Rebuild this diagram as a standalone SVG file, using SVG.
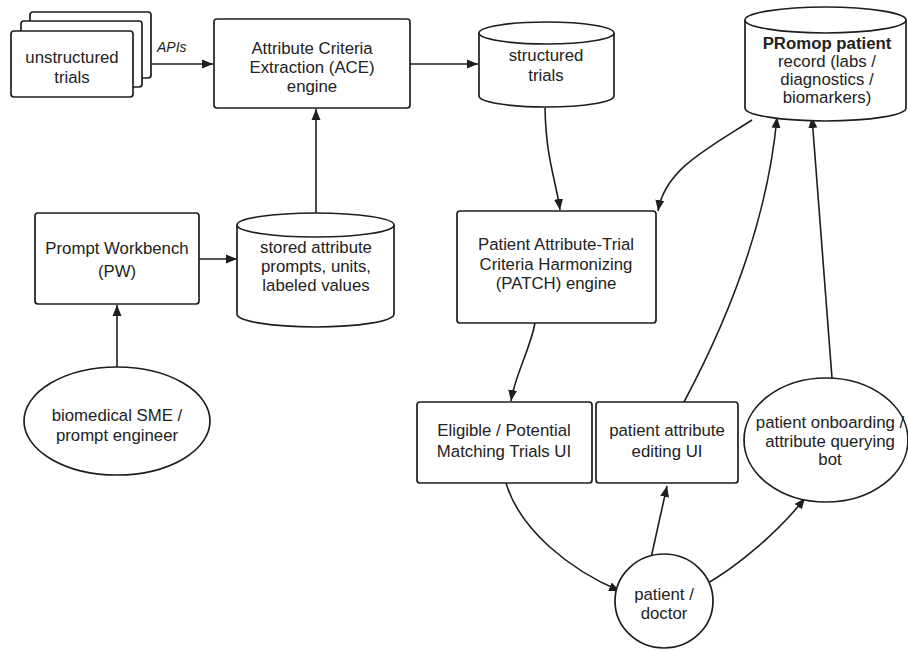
<svg xmlns="http://www.w3.org/2000/svg" width="908" height="650" viewBox="0 0 908 650">
<defs>
<marker id="arr" markerWidth="12" markerHeight="10" refX="11" refY="5" orient="auto" markerUnits="userSpaceOnUse">
<path d="M0,0.5 L11,5 L0,9.5 Z" fill="#1e1e1e"/>
</marker>
<style>
.s{fill:#fff;stroke:#1e1e1e;stroke-width:1.7}
.t{font-family:"Liberation Sans",Arial,sans-serif;font-size:16.8px;fill:#222;text-anchor:middle}
.b{font-weight:bold}
.i{font-style:italic;font-size:14px;text-anchor:start}
.c{fill:none;stroke:#1e1e1e;stroke-width:1.6;marker-end:url(#arr)}
</style>
</defs>
<rect width="908" height="650" fill="#fff"/>

<g id="connectors">
<path class="c" d="M133,64 H213"/>
<path class="c" d="M410,64 H478"/>
<path class="c" d="M316,213 V109"/>
<path class="c" d="M199,259 H237"/>
<path class="c" d="M117,367 V305"/>
<path class="c" d="M545,108 C546,160 556,180 560,210"/>
<path class="c" d="M752,120 C705,150 665,170 658,211"/>
<path class="c" d="M535,323 C530,350 515,375 511,401"/>
<path class="c" d="M684,402 Q765,250 777,117"/>
<path class="c" d="M832,378 L812,117"/>
<path class="c" d="M506,483 C520,530 570,570 620,591"/>
<path class="c" d="M651,558 L667,486"/>
<path class="c" d="M703,586 C740,565 780,530 805,498"/>
<text class="t i" x="157" y="52">APIs</text>
</g>

<g id="unstructured">
<rect class="s" x="30" y="12" width="121" height="66" rx="3"/>
<rect class="s" x="21" y="21" width="121" height="66" rx="3"/>
<rect class="s" x="11" y="31" width="122" height="66" rx="3"/>
<text class="t" x="72" y="63">unstructured</text>
<text class="t" x="72" y="83">trials</text>
</g>

<g id="ace">
<rect class="s" x="214" y="19" width="196" height="89" rx="3"/>
<text class="t" x="312" y="54">Attribute Criteria</text>
<text class="t" x="312" y="73">Extraction (ACE)</text>
<text class="t" x="312" y="92">engine</text>
</g>

<g id="structured">
<path class="s" d="M479,33 A67.5,11 0 0 1 614,33 V96 A67.5,11 0 0 1 479,96 Z"/>
<path class="s" fill="none" d="M479,33 A67.5,11 0 0 0 614,33"/>
<text class="t" x="546" y="61">structured</text>
<text class="t" x="546" y="81">trials</text>
</g>

<g id="promop">
<path class="s" d="M745,20 A80.5,13 0 0 1 906,20 V108 A80.5,13 0 0 1 745,108 Z"/>
<path class="s" fill="none" d="M745,20 A80.5,13 0 0 0 906,20"/>
<text class="t b" x="827" y="49">PRomop patient</text>
<text class="t" x="827" y="67">record (labs /</text>
<text class="t" x="827" y="85">diagnostics /</text>
<text class="t" x="827" y="103">biomarkers)</text>
</g>

<g id="pw">
<rect class="s" x="35" y="213" width="164" height="91" rx="3"/>
<text class="t" x="117" y="254">Prompt Workbench</text>
<text class="t" x="117" y="277">(PW)</text>
</g>

<g id="stored">
<path class="s" d="M237,225 A78.5,12 0 0 1 394,225 V314 A78.5,13 0 0 1 237,314 Z"/>
<path class="s" fill="none" d="M237,225 A78.5,12 0 0 0 394,225"/>
<text class="t" x="316" y="253">stored attribute</text>
<text class="t" x="316" y="272">prompts, units,</text>
<text class="t" x="316" y="291">labeled values</text>
</g>

<g id="sme">
<ellipse class="s" cx="117" cy="421" rx="93" ry="54"/>
<text class="t" x="117" y="421">biomedical SME /</text>
<text class="t" x="117" y="441">prompt engineer</text>
</g>

<g id="patch">
<rect class="s" x="457" y="211" width="199" height="112" rx="3"/>
<text class="t" x="556" y="250">Patient Attribute-Trial</text>
<text class="t" x="556" y="270">Criteria Harmonizing</text>
<text class="t" x="556" y="289">(PATCH) engine</text>
</g>

<g id="eligible">
<rect class="s" x="417" y="402" width="175" height="81" rx="3"/>
<text class="t" x="504" y="436">Eligible / Potential</text>
<text class="t" x="504" y="457">Matching Trials UI</text>
</g>

<g id="editing">
<rect class="s" x="596" y="402" width="142" height="81" rx="3"/>
<text class="t" x="667" y="436">patient attribute</text>
<text class="t" x="667" y="457">editing UI</text>
</g>

<g id="onboarding">
<ellipse class="s" cx="826" cy="440" rx="82" ry="62"/>
<text class="t" x="830" y="428">patient onboarding /</text>
<text class="t" x="830" y="447">attribute querying</text>
<text class="t" x="830" y="465">bot</text>
</g>

<g id="patient">
<ellipse class="s" cx="664" cy="601" rx="49" ry="47"/>
<text class="t" x="664" y="600">patient /</text>
<text class="t" x="664" y="619">doctor</text>
</g>
</svg>
